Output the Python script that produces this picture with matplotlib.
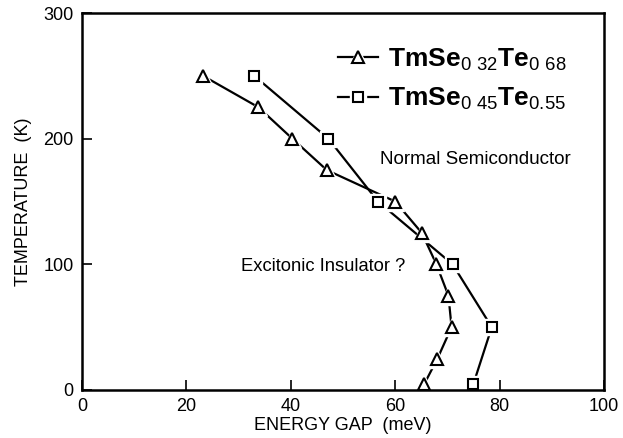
import matplotlib
matplotlib.use("Agg")
import matplotlib.pyplot as plt
from matplotlib.lines import Line2D

# Data
gap_a = [23.2, 33.8, 40.3, 46.9, 60.0, 65.1, 67.9, 70.2, 70.8, 68.1, 65.6]   # TmSe0.32Te0.68
temp_a = [250, 225, 200, 175, 150, 125, 100, 75, 50, 25, 5]
gap_b = [33.0, 47.2, 56.7, 71.0, 78.5, 75.0]                                  # TmSe0.45Te0.55
temp_b = [250, 200, 150, 100, 50, 5]

x_ticks = [0, 20, 40, 60, 80, 100]
y_ticks = [0, 100, 200, 300]

plt.rcParams['font.family'] = ['Liberation Sans', 'DejaVu Sans']
plt.rcParams['mathtext.fontset'] = 'custom'
plt.rcParams['mathtext.rm'] = 'Liberation Sans'
plt.rcParams['mathtext.bf'] = 'Liberation Sans:bold'

fig = plt.figure(figsize=(6.23, 4.38), dpi=100)
ax = fig.add_axes([0.1316, 0.1096, 0.8379, 0.8607])

def draw(x, y, marker, ms):
    ax.plot(x, y, '-', color='black', lw=1.6, zorder=1)
    # white halo so the line stops short of each marker
    ax.plot(x, y, marker, ms=ms + 5, color='white', mec='white', ls='none', zorder=2)
    ax.plot(x, y, marker, ms=ms, mfc='white', mec='black', mew=1.5, ls='none', zorder=3)

draw(gap_a, temp_a, '^', 8)
draw(gap_b, temp_b, 's', 7)

ax.set_xlim(0, 100)
ax.set_ylim(0, 300)
ax.set_xticks(x_ticks)
ax.set_yticks(y_ticks)
ax.tick_params(direction='in', length=7, width=1.2, labelsize=13, pad=6)
for s in ax.spines.values():
    s.set_linewidth(1.8)

ax.set_xlabel("ENERGY GAP  (meV)", fontsize=13, labelpad=1)
ax.set_ylabel("TEMPERATURE  (K)", fontsize=13, labelpad=8)

ax.text(57, 180, "Normal Semiconductor", fontsize=13.6)
ax.text(30.5, 95, "Excitonic Insulator ?", fontsize=13.2)

# legend: line with a gap around the marker
def handle(marker, ms):
    ln = Line2D([], [], color='black', lw=1.6)
    halo = Line2D([], [], ls='none', marker=marker, ms=ms + 5, color='white', mec='white')
    mk = Line2D([], [], ls='none', marker=marker, ms=ms, mfc='white', mec='black', mew=1.5)
    return (ln, halo, mk)

handles = [handle('^', 8), handle('s', 7)]
labels = [r"$\mathbf{TmSe}_{\mathrm{0\ 32}}\mathbf{Te}_{\mathrm{0\ 68}}$",
          r"$\mathbf{TmSe}_{\mathrm{0\ 45}}\mathbf{Te}_{\mathrm{0.55}}$"]
ax.legend(handles, labels, loc='upper left', bbox_to_anchor=(0.445, 0.975), frameon=False,
          fontsize=19, handlelength=1.5, handletextpad=0.4, labelspacing=0.5)

fig.savefig("out.png", dpi=100)
